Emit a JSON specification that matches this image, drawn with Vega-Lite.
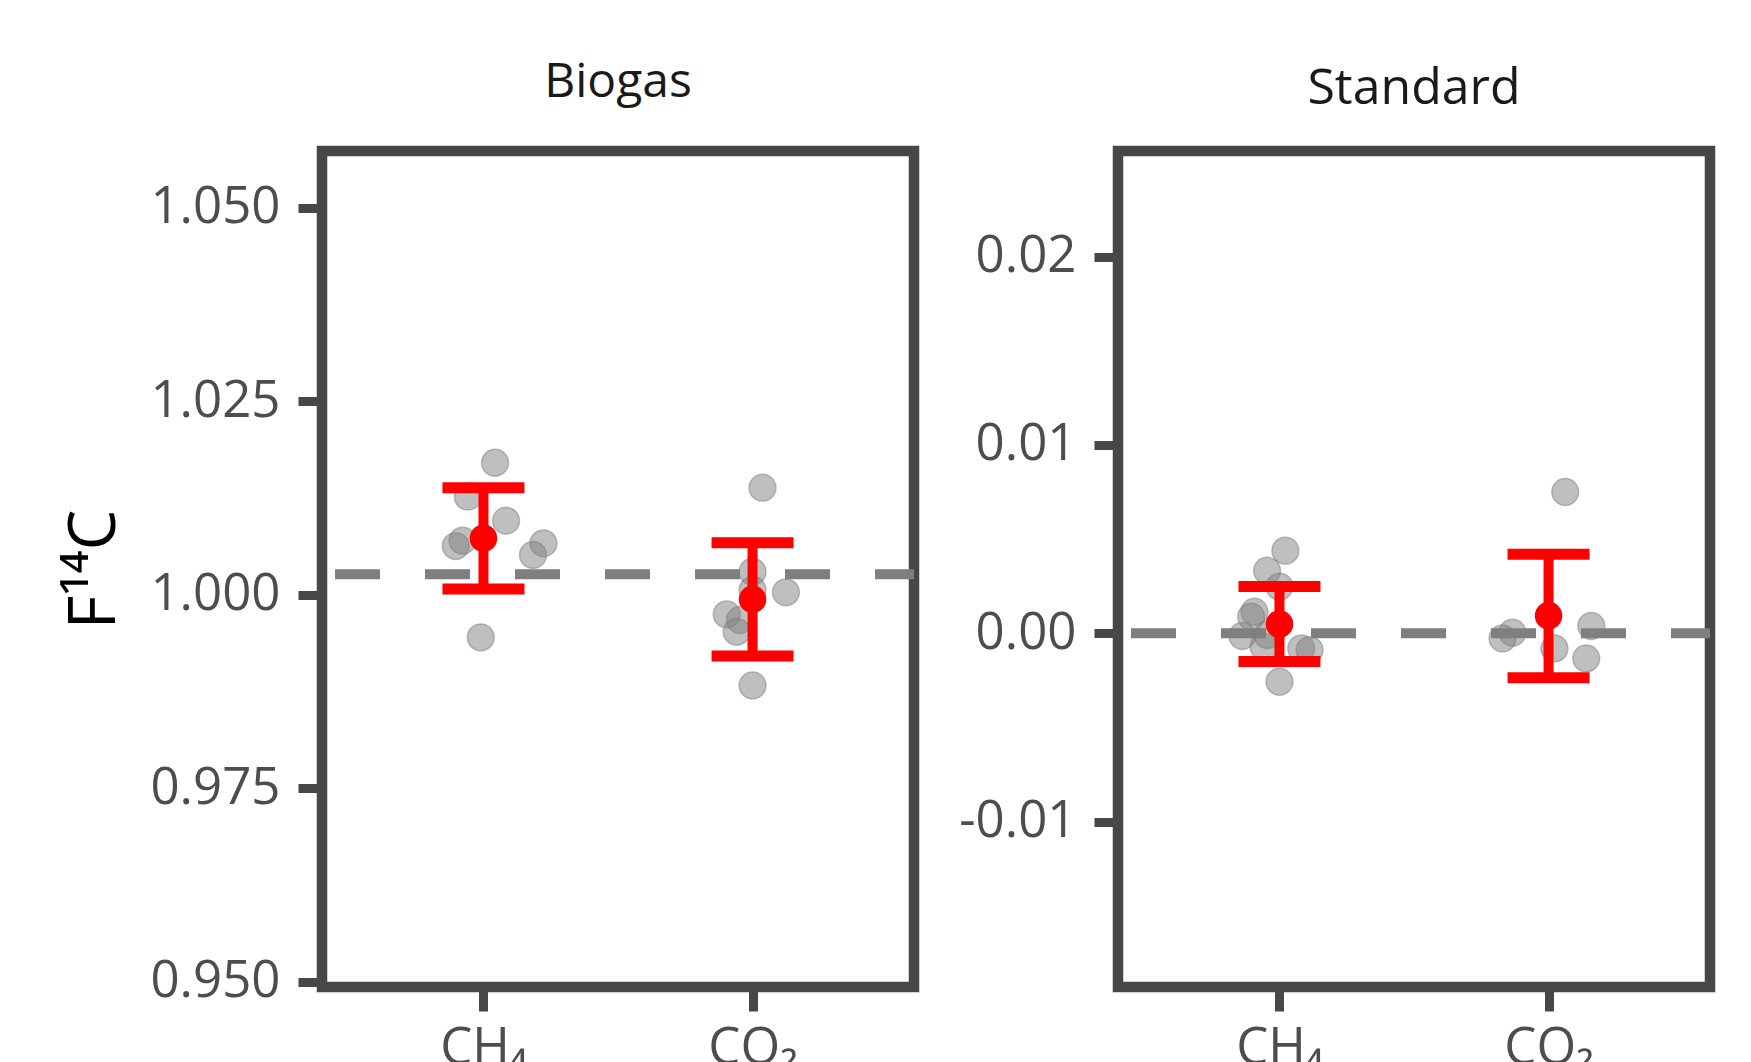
{
  "$schema": "https://vega.github.io/schema/vega-lite/v6.json",
  "background": "white",
  "padding": {"left": 56, "top": 53, "right": 0, "bottom": 0},
  "bounds": "flush",
  "spacing": 204,
  "datasets": {
    "pts": [
      {"panel": "Biogas", "pos": 1.043, "f": 1.01705},
      {"panel": "Biogas", "pos": 0.942, "f": 1.01266},
      {"panel": "Biogas", "pos": 1.084, "f": 1.00956},
      {"panel": "Biogas", "pos": 0.922, "f": 1.00697},
      {"panel": "Biogas", "pos": 0.897, "f": 1.00628},
      {"panel": "Biogas", "pos": 1.223, "f": 1.00663},
      {"panel": "Biogas", "pos": 1.184, "f": 1.00512},
      {"panel": "Biogas", "pos": 0.99, "f": 0.99448},
      {"panel": "Biogas", "pos": 2.037, "f": 1.01382},
      {"panel": "Biogas", "pos": 2.0, "f": 1.00296},
      {"panel": "Biogas", "pos": 2.124, "f": 1.0003},
      {"panel": "Biogas", "pos": 2.0, "f": 1.0006},
      {"panel": "Biogas", "pos": 1.904, "f": 0.99745},
      {"panel": "Biogas", "pos": 1.953, "f": 0.99672},
      {"panel": "Biogas", "pos": 1.941, "f": 0.9952},
      {"panel": "Biogas", "pos": 2.0, "f": 0.98827},
      {"panel": "Standard", "pos": 1.022, "f": 0.00439},
      {"panel": "Standard", "pos": 0.954, "f": 0.00332},
      {"panel": "Standard", "pos": 1.0, "f": 0.00248},
      {"panel": "Standard", "pos": 0.907, "f": 0.00115},
      {"panel": "Standard", "pos": 0.895, "f": 0.00088},
      {"panel": "Standard", "pos": 0.862, "f": -0.00014},
      {"panel": "Standard", "pos": 0.955, "f": -0.00009},
      {"panel": "Standard", "pos": 0.941, "f": -0.00071},
      {"panel": "Standard", "pos": 1.081, "f": -0.0008},
      {"panel": "Standard", "pos": 1.112, "f": -0.00089},
      {"panel": "Standard", "pos": 1.0, "f": -0.00257},
      {"panel": "Standard", "pos": 2.062, "f": 0.0075},
      {"panel": "Standard", "pos": 1.866, "f": 0.00003},
      {"panel": "Standard", "pos": 1.829, "f": -0.00027},
      {"panel": "Standard", "pos": 2.159, "f": 0.00039},
      {"panel": "Standard", "pos": 2.022, "f": -0.0008},
      {"panel": "Standard", "pos": 2.14, "f": -0.00133}
    ],
    "summary": [
      {"panel": "Biogas", "pos": 1, "mean": 1.00728, "lo": 1.00072, "hi": 1.01382},
      {"panel": "Biogas", "pos": 2, "mean": 0.99939, "lo": 0.99206, "hi": 1.00671},
      {"panel": "Standard", "pos": 1, "mean": 0.00049, "lo": -0.00149, "hi": 0.00248},
      {"panel": "Standard", "pos": 2, "mean": 0.00094, "lo": -0.00236, "hi": 0.0042}
    ],
    "refs": [
      {"panel": "Biogas", "ref": 1.00264},
      {"panel": "Standard", "ref": 0}
    ]
  },
  "config": {
    "font": "Open Sans",
    "view": {"stroke": "#474747", "strokeWidth": 10.5},
    "axis": {
      "grid": false,
      "domain": false,
      "tickColor": "#474747",
      "tickWidth": 9,
      "tickSize": 24,
      "labelFont": "Open Sans",
      "labelFontSize": 51,
      "labelColor": "#4d4d4d",
      "titleFont": "Open Sans",
      "titleFontSize": 65,
      "titleFontWeight": "normal",
      "titleColor": "#000000"
    }
  },
  "hconcat": [
    {
      "title": {"text": "Biogas", "fontSize": 48, "fontWeight": "normal", "color": "#1a1a1a", "baseline": "alphabetic", "offset": 6.5, "anchor": "middle", "font": "Open Sans"},
      "width": 592,
      "height": 836,
      "layer": [
        {
          "data": {"name": "refs"},
          "transform": [{"filter": "datum.panel === 'Biogas'"}],
          "mark": {"type": "rule", "strokeDash": [45, 45], "strokeDashOffset": 6, "strokeWidth": 10, "color": "#7f7f7f"},
          "encoding": {
            "y": {"field": "ref", "type": "quantitative", "scale": {"domain": [0.9493, 1.05733], "nice": false, "zero": false},
              "axis": {"values": [0.95, 0.975, 1.0, 1.025, 1.05], "format": ".3f", "labelPadding": 18, "title": "F¹⁴C", "titleAngle": -90, "titleX": -208, "titleY": 418, "titleBaseline": "alphabetic", "titleAlign": "center"}}
          }
        },
        {
          "data": {"name": "pts"},
          "transform": [{"filter": "datum.panel === 'Biogas'"}],
          "mark": {"type": "circle", "size": 720, "fill": "#7f7f7f", "fillOpacity": 0.5, "stroke": "#7f7f7f", "strokeOpacity": 0.5, "strokeWidth": 1.5, "opacity": 1},
          "encoding": {
            "x": {"field": "pos", "type": "quantitative", "scale": {"domain": [0.4, 2.6], "nice": false, "zero": false},
              "axis": {"values": [1, 2], "labelExpr": "datum.value == 1 ? 'CH₄' : 'CO₂'", "labelPadding": 12, "title": null}},
            "y": {"field": "f", "type": "quantitative"}
          }
        },
        {
          "data": {"name": "summary"},
          "transform": [{"filter": "datum.panel === 'Biogas'"}],
          "mark": {"type": "rule", "color": "#ff0000", "strokeWidth": 10, "opacity": 1},
          "encoding": {
            "x": {"field": "pos", "type": "quantitative"},
            "y": {"field": "lo", "type": "quantitative"},
            "y2": {"field": "hi"}
          }
        },
        {
          "data": {"name": "summary"},
          "transform": [{"filter": "datum.panel === 'Biogas'"}],
          "mark": {"type": "tick", "orient": "horizontal", "size": 82, "thickness": 11, "color": "#ff0000", "opacity": 1},
          "encoding": {
            "x": {"field": "pos", "type": "quantitative"},
            "y": {"field": "lo", "type": "quantitative"}
          }
        },
        {
          "data": {"name": "summary"},
          "transform": [{"filter": "datum.panel === 'Biogas'"}],
          "mark": {"type": "tick", "orient": "horizontal", "size": 82, "thickness": 11, "color": "#ff0000", "opacity": 1},
          "encoding": {
            "x": {"field": "pos", "type": "quantitative"},
            "y": {"field": "hi", "type": "quantitative"}
          }
        },
        {
          "data": {"name": "summary"},
          "transform": [{"filter": "datum.panel === 'Biogas'"}],
          "mark": {"type": "circle", "size": 760, "color": "#ff0000", "opacity": 1},
          "encoding": {
            "x": {"field": "pos", "type": "quantitative"},
            "y": {"field": "mean", "type": "quantitative"}
          }
        }
      ]
    },
    {
      "title": {"text": "Standard", "fontSize": 50, "fontWeight": "normal", "color": "#1a1a1a", "baseline": "alphabetic", "offset": -2.6, "anchor": "middle", "font": "Open Sans"},
      "width": 592,
      "height": 836,
      "layer": [
        {
          "data": {"name": "refs"},
          "transform": [{"filter": "datum.panel === 'Standard'"}],
          "mark": {"type": "rule", "strokeDash": [45, 45], "strokeDashOffset": 6, "strokeWidth": 10, "color": "#7f7f7f"},
          "encoding": {
            "y": {"field": "ref", "type": "quantitative", "scale": {"domain": [-0.01877, 0.0256], "nice": false, "zero": false},
              "axis": {"values": [-0.01, 0, 0.01, 0.02], "labelExpr": "replace(format(datum.value, '.2f'), '−', '-')", "labelPadding": 18, "title": null}}
          }
        },
        {
          "data": {"name": "pts"},
          "transform": [{"filter": "datum.panel === 'Standard'"}],
          "mark": {"type": "circle", "size": 720, "fill": "#7f7f7f", "fillOpacity": 0.5, "stroke": "#7f7f7f", "strokeOpacity": 0.5, "strokeWidth": 1.5, "opacity": 1},
          "encoding": {
            "x": {"field": "pos", "type": "quantitative", "scale": {"domain": [0.4, 2.6], "nice": false, "zero": false},
              "axis": {"values": [1, 2], "labelExpr": "datum.value == 1 ? 'CH₄' : 'CO₂'", "labelPadding": 12, "title": null}},
            "y": {"field": "f", "type": "quantitative"}
          }
        },
        {
          "data": {"name": "summary"},
          "transform": [{"filter": "datum.panel === 'Standard'"}],
          "mark": {"type": "rule", "color": "#ff0000", "strokeWidth": 10, "opacity": 1},
          "encoding": {
            "x": {"field": "pos", "type": "quantitative"},
            "y": {"field": "lo", "type": "quantitative"},
            "y2": {"field": "hi"}
          }
        },
        {
          "data": {"name": "summary"},
          "transform": [{"filter": "datum.panel === 'Standard'"}],
          "mark": {"type": "tick", "orient": "horizontal", "size": 82, "thickness": 11, "color": "#ff0000", "opacity": 1},
          "encoding": {
            "x": {"field": "pos", "type": "quantitative"},
            "y": {"field": "lo", "type": "quantitative"}
          }
        },
        {
          "data": {"name": "summary"},
          "transform": [{"filter": "datum.panel === 'Standard'"}],
          "mark": {"type": "tick", "orient": "horizontal", "size": 82, "thickness": 11, "color": "#ff0000", "opacity": 1},
          "encoding": {
            "x": {"field": "pos", "type": "quantitative"},
            "y": {"field": "hi", "type": "quantitative"}
          }
        },
        {
          "data": {"name": "summary"},
          "transform": [{"filter": "datum.panel === 'Standard'"}],
          "mark": {"type": "circle", "size": 760, "color": "#ff0000", "opacity": 1},
          "encoding": {
            "x": {"field": "pos", "type": "quantitative"},
            "y": {"field": "mean", "type": "quantitative"}
          }
        }
      ]
    }
  ]
}
